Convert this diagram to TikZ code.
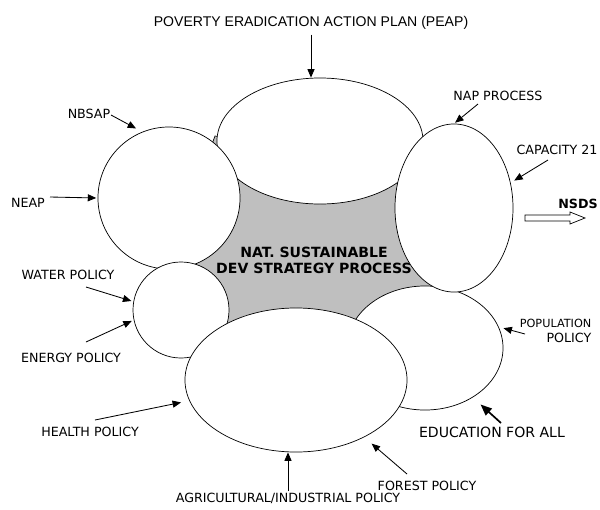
\documentclass[tikz,border=0pt]{standalone}
\usepackage{fontspec}
\setmainfont{DejaVu Sans}
\newfontfamily\titlefont{Liberation Sans}
\usetikzlibrary{shapes.geometric,arrows.meta}

\tikzset{
  blob/.style={ellipse, draw, fill=white, inner sep=0pt, line width=0.5pt},
  lbl/.style={font=\fontsize{9}{10.6}\selectfont, inner sep=1pt},
  arr/.style={-{Triangle[length=6pt,width=5pt]}, line width=0.6pt},
}

\begin{document}
\begin{tikzpicture}[x=0.025cm, y=-0.025cm]
	\useasboundingbox (0,0) rectangle (600,509);
	% grey core behind the bubbles
	\filldraw[fill=black!25, line width=0.5pt] (215,136) -- (320,150) -- (440,160) -- (463,287) -- (420,330)
	  -- (360,325) -- (300,360) -- (215,345) -- (190,300) -- (180,230) -- cycle;
	% bubbles, back to front
	\node[blob, minimum width=5.15cm, minimum height=3.15cm] (peap) at (320,141) {};
	\node[blob, minimum width=3.55cm, minimum height=3.55cm] (neap) at (169,198) {};
	\node[blob, minimum width=3.9cm, minimum height=3.1cm] (pop) at (425,348) {};
	\node[font=\bfseries\fontsize{10}{11.4}\selectfont, align=center] (nsdp) at (314,260) {NAT. SUSTAINABLE\\DEV STRATEGY PROCESS};
	\node[blob, minimum width=2.95cm, minimum height=4.2cm] (nap) at (454,208) {};
	\node[blob, minimum width=2.4cm, minimum height=2.4cm] (water) at (181,310) {};
	\node[blob, minimum width=5.55cm, minimum height=3.6cm] (agri) at (296,380) {};

	% labels
	\node[font=\titlefont\fontsize{10}{12}\selectfont] (peap-l) at (311,23) {POVERTY ERADICATION ACTION PLAN (PEAP)};
	\foreach \n/\x/\y/\t in {nbsap-l/89/114/NBSAP, neap-l/28/203/NEAP, water-l/68/275/WATER POLICY,
	    energy-l/71/358/ENERGY POLICY, health-l/90/432/HEALTH POLICY, agri-l/288/498/{AGRICULTURAL/INDUSTRIAL POLICY},
	    forest-l/427/486/FOREST POLICY, nap-l/498/96/NAP PROCESS, cap-l/557/150/CAPACITY 21}{%
		\node[lbl] (\n) at (\x,\y) {\t};
	}
	\node[lbl, align=right, anchor=east] (pop-l) at (593,331) {{\fontsize{8}{9}\selectfont POPULATION}\\POLICY};
	\node[font=\fontsize{10}{12}\selectfont] (edu-l) at (492,432) {EDUCATION FOR ALL};
	\node[font=\bfseries\fontsize{9}{11}\selectfont] (nsds-l) at (578,204) {NSDS};

	% arrows
	\foreach \t/\x/\y/\h/\s in {nbsap-t/111/115/neap.112/5, neap-t/50/197/neap.180/1, water-t/86/287/water.170/1.5,
	    energy-t/86/342/water.192/1.5, health-t/95/420/agri.191/6, forest-t/407/474/agri.-40/7,
	    pop-t/525/334/pop.16/3.5, cap-t/548/160/nap.24/3, nap-t/478/104/nap.north/1}{%
		\coordinate (\t) at (\x,\y);
		\draw[arr, shorten >=\s pt] (\t) -- (\h);
	}
	\draw[arr] (peap-l.south) -- (peap-l.south |- peap.north);
	\draw[arr] (agri-l.north) -- (agri-l.north |- agri.south);
	\coordinate (edu-t) at (501,423);
	\draw[-{Triangle[length=8pt,width=6.5pt]}, line width=1.2pt, shorten >=7.5pt] (edu-t) -- (pop.-46);
	% hollow arrow out to NSDS
	\draw[line width=0.5pt] (525,215) -- (570,215) -- (570,212) -- (585,218) -- (570,224) -- (570,221) -- (525,221) -- cycle;
\end{tikzpicture}
\end{document}
